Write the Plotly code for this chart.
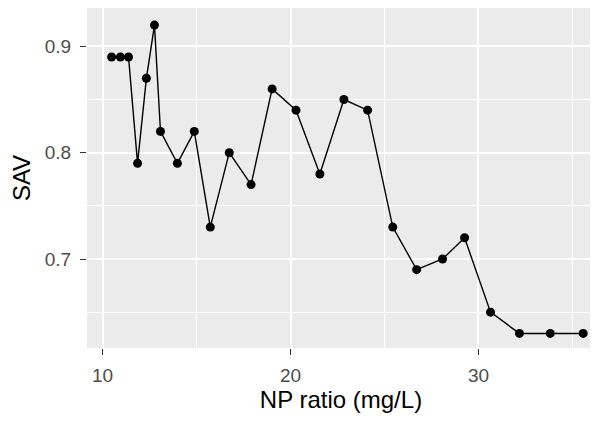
import plotly.graph_objects as go

np_ratio = [10.48, 10.95, 11.38, 11.86, 12.33, 12.76, 13.08, 13.98, 14.88, 15.73,
            16.74, 17.9, 19.02, 20.29, 21.56, 22.84, 24.1, 25.44, 26.71, 28.09,
            29.26, 30.64, 32.18, 33.82, 35.57]
sav = [0.89, 0.89, 0.89, 0.79, 0.87, 0.92, 0.82, 0.79, 0.82, 0.73,
       0.80, 0.77, 0.86, 0.84, 0.78, 0.85, 0.84, 0.73, 0.69, 0.70,
       0.72, 0.65, 0.63, 0.63, 0.63]

x_ticks = [10, 20, 30]
y_ticks = [0.7, 0.8, 0.9]
y_tick_labels = ["0.7", "0.8", "0.9"]

fig = go.Figure()
fig.add_trace(go.Scatter(
    x=np_ratio, y=sav, mode="lines+markers",
    line=dict(color="black", width=1.4),
    marker=dict(color="black", size=9),
    showlegend=False,
))

tickfont = dict(family="Liberation Sans, Arial, sans-serif", size=19, color="#4D4D4D")
titlefont = dict(family="Liberation Sans, Arial, sans-serif", size=24, color="black")

# page body has an 8px default margin, so the figure is sized/offset to compensate
fig.update_layout(
    width=590, height=413,
    margin=dict(l=79, r=3, t=0, b=73),
    paper_bgcolor="white",
    plot_bgcolor="#EBEBEB",
    xaxis=dict(
        range=[9.17, 36.2],
        tickmode="array", tickvals=x_ticks, ticktext=[str(v) for v in x_ticks],
        showgrid=True, gridcolor="white", gridwidth=1.6,
        minor=dict(tickmode="array", tickvals=[15, 25, 35], showgrid=True,
                   gridcolor="white", gridwidth=0.8, ticks=""),
        zeroline=False, showline=False,
        ticks="outside", ticklen=6, tickwidth=1.2, tickcolor="#333333",
        ticklabelstandoff=4,
        tickfont=tickfont,
        title=dict(text="NP ratio (mg/L)", font=titlefont, standoff=6),
    ),
    yaxis=dict(
        range=[0.6163, 0.9361],
        tickmode="array", tickvals=y_ticks, ticktext=y_tick_labels,
        showgrid=True, gridcolor="white", gridwidth=1.6,
        minor=dict(tickmode="array", tickvals=[0.65, 0.75, 0.85], showgrid=True,
                   gridcolor="white", gridwidth=0.8, ticks=""),
        zeroline=False, showline=False,
        ticks="outside", ticklen=6, tickwidth=1.2, tickcolor="#333333",
        ticklabelstandoff=5,
        tickfont=tickfont,
        title=dict(text="SAV", font=titlefont, standoff=8),
    ),
)

fig.write_html("out.html")
